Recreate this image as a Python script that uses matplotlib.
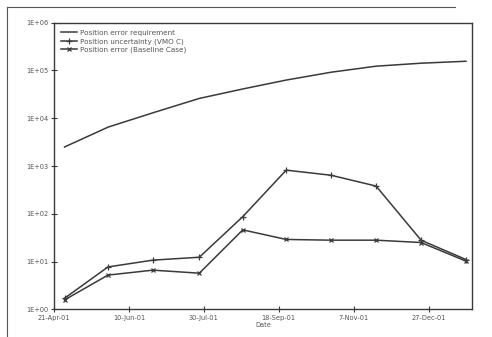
import numpy as np
import matplotlib
matplotlib.use('Agg')
import matplotlib.pyplot as plt
import matplotlib.dates as mdates
from matplotlib.lines import Line2D
from datetime import datetime, timedelta

# monthly sample dates
dates = ['2001-04-28', '2001-05-27', '2001-06-26', '2001-07-27', '2001-08-25',
         '2001-09-23', '2001-10-23', '2001-11-22', '2001-12-22', '2002-01-21']
requirement = [2500, 6500, 13000, 26000, 41000, 63000, 92000, 123000, 142000, 156000]
uncertainty = [1.7, 7.7, 10.7, 12.3, 87, 820, 640, 380, 28, 11]
baseline = [1.57, 5.2, 6.6, 5.7, 46, 29, 28, 28, 25, 10.2]
labels = ['Position error requirement', 'Position uncertainty (VMO C)',
          'Position error (Baseline Case)']

x = [datetime.strptime(d, '%Y-%m-%d') for d in dates]
start = datetime(2001, 4, 21)
xticks = [start + timedelta(days=50*i) for i in range(6)]

col = '#3a3a3a'
fig = plt.figure(figsize=(4.92, 3.37), dpi=100)
ax = fig.add_axes([0.1098, 0.0822, 0.8495, 0.8504])

ax.plot(x, requirement, color=col, lw=1.1, label=labels[0])
ax.plot(x, uncertainty, color=col, lw=1.1, marker='+', ms=4.5, mew=0.9, label=labels[1])
ax.plot(x, baseline, color=col, lw=1.1, marker='x', ms=3.2, mew=0.9, label=labels[2])

ax.set_yscale('log')
ax.set_ylim(1, 1e6)
ax.set_yticks([10.0**k for k in range(7)])
ax.set_yticklabels(['1E+%02d' % k for k in range(7)])
ax.minorticks_off()
ax.set_xlim(start, start + timedelta(days=279))
ax.set_xticks(xticks)
ax.set_xticklabels([d.strftime('%d-%b-%y').lstrip('0') for d in xticks])
ax.tick_params(direction='inout', length=4, width=0.8, labelsize=4.8, colors=col,
               labelcolor='#555555', pad=2)
ax.set_xlabel('Date', fontsize=4.8, color='#555555', labelpad=1)
for s in ax.spines.values():
    s.set_color(col)
    s.set_linewidth(1.0)

ax.legend(loc='upper left', frameon=False, fontsize=5.2, handlelength=2.2,
          handletextpad=0.4, labelspacing=0.3, borderaxespad=0.6, labelcolor='#555555')

# border of the scanned figure
fig.add_artist(Line2D([7/492, 7/492], [0, 1-7/337], color='#555555', lw=0.8))
fig.add_artist(Line2D([7/492, 455/492], [1-7/337, 1-7/337], color='#555555', lw=0.8))

fig.savefig('out.png', dpi=100)
